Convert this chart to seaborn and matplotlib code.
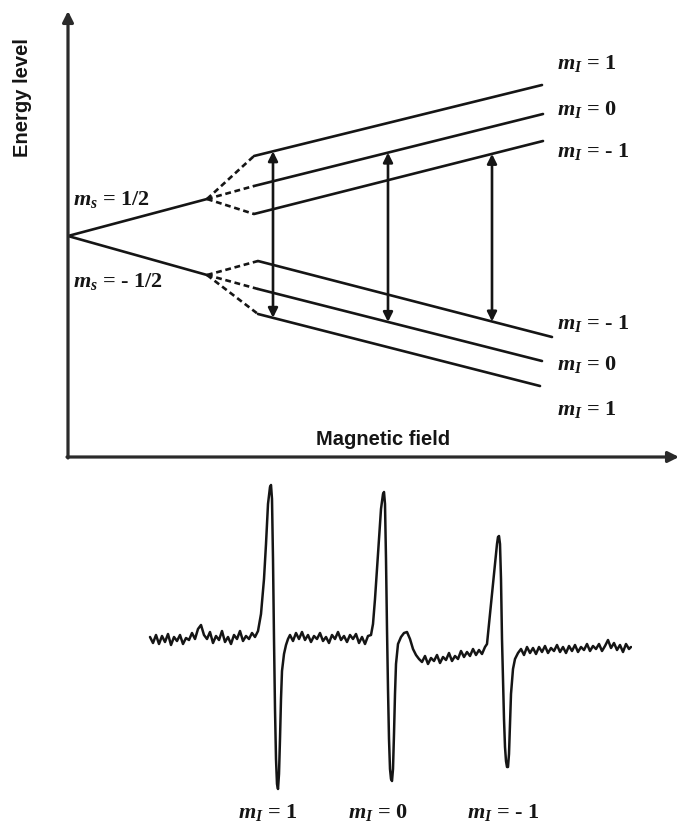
import numpy as np
import pandas as pd
import matplotlib
matplotlib.use("Agg")
import matplotlib.pyplot as plt
import seaborn as sns

# ---------------- Energy-level diagram data ----------------
origin_E = 221            # energy at zero field
split_B = 139             # field where hyperfine splitting is drawn
ms_labels = ["1/2", "- 1/2"]
ms_E = [258, 182]         # electron levels at split_B (m_s = +1/2, -1/2)

mI_upper = ["1", "0", "- 1"]
upper_kink_B = 186
upper_kink_E = [301, 271, 243]
upper_end_B = [474, 475, 475]
upper_end_E = [372, 343, 316]

mI_lower = ["- 1", "0", "1"]
lower_kink_B = 190
lower_kink_E = [196, 168, 143]
lower_end_B = [484, 474, 472]
lower_end_E = [120, 96, 71]

# allowed transitions (Delta m_I = 0): field position, upper index, lower index
trans_B = [205, 320, 424]
trans_upper = [0, 1, 2]
trans_lower = [2, 1, 0]

# ---------------- EPR spectrum (first-derivative trace) ----------------
spec_field = [
    0, 3, 6, 9, 12, 15, 18, 21, 24, 27, 30, 33, 36, 39, 42, 45, 48, 51, 54, 57,
    60, 63, 66, 69, 72, 75, 78, 81, 84, 87, 90, 93, 96, 99, 102, 105, 108,
    111, 114, 116, 118, 120, 121, 122, 123, 124, 125, 126, 127, 128, 129, 130,
    131, 132, 134, 136, 138, 140,
    143, 146, 149, 152, 155, 158, 161, 164, 167, 170, 173, 176, 179, 182, 185,
    188, 191, 194, 197, 200, 203, 206, 209, 212, 215, 218, 221,
    223, 225, 227, 229, 231, 233, 234, 235, 236, 237, 238, 239, 240, 241, 242,
    243, 244, 245, 246, 248, 251, 254, 257, 260, 263, 266, 269,
    272, 275, 278, 281, 284, 287, 290, 293, 296, 299, 302, 305, 308, 311, 314,
    317, 320, 323, 326, 329, 332, 335, 337,
    339, 341, 343, 345, 347, 348, 349, 350, 351, 352, 353, 354, 355, 356, 357,
    358, 359, 360, 361, 363, 365, 368,
    371, 374, 377, 380, 383, 386, 389, 392, 395, 398, 401, 404, 407, 410, 413,
    416, 419, 422, 425, 428, 431, 434, 437, 440, 443, 446, 449, 452, 455, 458,
    461, 464, 467, 470, 473, 476, 479, 481,
]
spec_signal = [
    2, -4, 4, -5, 3, -3, 5, -6, 2, -2, 4, -5, 1, -1, 6, 0, 10, 14, 4, 0,
    7, -4, 3, -1, 8, -3, 2, -5, 4, 0, 8, -2, 3, 0, 6, 2, 8,
    25, 60, 95, 135, 152, 154, 140, 80, 0, -70, -120, -145, -150, -135, -100,
    -60, -32, -15, -6, 0, 4,
    -2, 6, 0, 7, -1, 4, -3, 3, 0, 6, -2, 2, -4, 4, 0, 7, -1, 3, -3, 4,
    0, 5, -4, 2, -5, 3, 4,
    15, 40, 70, 100, 130, 145, 147, 135, 80, 10, -50, -100, -130, -140, -142,
    -130, -95, -55, -25, -5, 2, 6, 7, 0, -10, -16, -20,
    -23, -17, -25, -19, -22, -16, -24, -18, -21, -14, -22, -17, -20, -12, -18,
    -13, -17, -10, -16, -11, -15, -8, -5,
    15, 35, 55, 75, 95, 102, 103, 95, 60, 0, -40, -80, -108, -122, -128,
    -128, -115, -85, -55, -30, -20, -14,
    -10, -16, -8, -14, -9, -15, -8, -13, -7, -14, -9, -12, -6, -13, -8,
    -14, -7, -12, -6, -13, -8, -11, -5, -12, -7, -10, -5, -12, -7, -1,
    -9, -4, -11, -6, -13, -5, -10, -8,
]
spec_labels = ["1", "0", "- 1"]
spec_label_field = [118, 228, 353]

# ---------------- style ----------------
sns.set_theme(style="white")
plt.rcParams.update({
    "mathtext.fontset": "custom",
    "mathtext.rm": "Liberation Serif:bold",
    "mathtext.it": "Liberation Serif:italic:bold",
    "mathtext.bf": "Liberation Serif:bold",
})
INK = "#151515"
serif = dict(family="Liberation Serif", weight="bold", size=16, color=INK)
sans = dict(family="Liberation Sans", weight="bold", size=14.5, color=INK)

fig = plt.figure(figsize=(6.79, 8.29), dpi=100)
W, H = 679, 829
ax = fig.add_axes([68 / W, (H - 458) / H, 611 / W, 446 / H])
ax.set_xlim(0, 611)
ax.set_ylim(0, 446)
ax.set_axis_off()

# build line segments of the level diagram
rows = []
seg = 0
for e in ms_E:
    rows += [(seg, "solid", 0, origin_E), (seg, "solid", split_B, e)]
    seg += 1
for i in range(3):
    rows += [(seg, "dashed", split_B, ms_E[0]), (seg, "dashed", upper_kink_B, upper_kink_E[i])]
    seg += 1
    rows += [(seg, "solid", upper_kink_B, upper_kink_E[i]), (seg, "solid", upper_end_B[i], upper_end_E[i])]
    seg += 1
    rows += [(seg, "dashed", split_B, ms_E[1]), (seg, "dashed", lower_kink_B, lower_kink_E[i])]
    seg += 1
    rows += [(seg, "solid", lower_kink_B, lower_kink_E[i]), (seg, "solid", lower_end_B[i], lower_end_E[i])]
    seg += 1
levels = pd.DataFrame(rows, columns=["seg", "kind", "B", "E"])

sns.lineplot(data=levels, x="B", y="E", units="seg", estimator=None, sort=False,
             style="kind", dashes={"solid": "", "dashed": (2.2, 1.4)},
             color=INK, lw=1.9, legend=False, ax=ax)

# axes with arrow heads
arrow_kw = dict(arrowstyle="-|>", lw=2.3, color="#2a2a2a", mutation_scale=16,
                shrinkA=0, shrinkB=0)
ax.annotate("", xy=(0, 446), xytext=(0, -1), arrowprops=arrow_kw, annotation_clip=False)
ax.annotate("", xy=(611, 0), xytext=(-1, 0), arrowprops=arrow_kw, annotation_clip=False)

# transition arrows
for b, iu, il in zip(trans_B, trans_upper, trans_lower):
    e_top = np.interp(b, [upper_kink_B, upper_end_B[iu]], [upper_kink_E[iu], upper_end_E[iu]])
    e_bot = np.interp(b, [lower_kink_B, lower_end_B[il]], [lower_kink_E[il], lower_end_E[il]])
    ax.annotate("", xy=(b, e_top), xytext=(b, e_bot),
                arrowprops=dict(arrowstyle="<|-|>", lw=1.9, color=INK,
                                mutation_scale=14, shrinkA=0, shrinkB=0))

# labels
ax.text(5, 258, r"$m_s$ = " + ms_labels[0], ha="left", va="center", **serif)
ax.text(5, 176, r"$m_s$ = " + ms_labels[1], ha="left", va="center", **serif)
for lab, e in zip(mI_upper, [395, 348, 306]):
    ax.text(489, e, r"$m_I$ = " + lab, ha="left", va="center", **serif)
for lab, e in zip(mI_lower, [135, 93, 48]):
    ax.text(489, e, r"$m_I$ = " + lab, ha="left", va="center", **serif)
ax.text(-45, 360, "Energy level", rotation=90, ha="center", va="center", **sans)
ax.text(315, 18, "Magnetic field", ha="center", va="center", **sans)

# spectrum
ax2 = fig.add_axes([148 / W, (H - 800) / H, 484 / W, 330 / H])
ax2.set_xlim(-2, 482)
ax2.set_ylim(-160, 170)
ax2.set_axis_off()
sns.lineplot(x=spec_field, y=spec_signal, sort=False, estimator=None,
             color=INK, lw=1.8, ax=ax2)
for lab, f in zip(spec_labels, spec_label_field):
    ax2.text(f, -173, r"$m_I$ = " + lab, ha="center", va="center", clip_on=False, **serif)

fig.savefig("out.png", dpi=100)
